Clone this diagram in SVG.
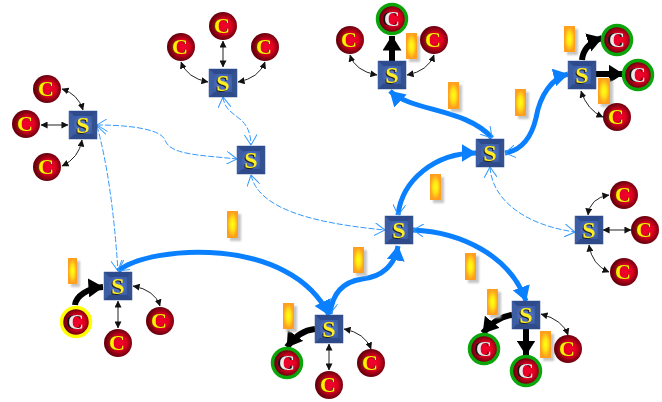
<svg xmlns="http://www.w3.org/2000/svg" width="662" height="402" viewBox="0 0 662 402">
<style>
.c{fill:url(#cg)}
.ct{font-family:"Liberation Serif",serif;font-weight:bold;font-size:22px;text-anchor:middle;fill:#ffee00;filter:drop-shadow(-1px 0 0 #5a3a00)}
.ca{fill:#f0e6ea;filter:drop-shadow(-1.5px 0 0 #111)}
.gr{fill:none;stroke:#0aa50a;stroke-width:3.5}
.yr{fill:none;stroke:#ffff00;stroke-width:3.5}
.st{font-family:"Liberation Serif",serif;font-weight:bold;font-size:24px;text-anchor:middle;fill:#ffee22;filter:drop-shadow(-1px 1px 0 #222)}
.bar{fill:url(#bg);filter:drop-shadow(3px 3px 1px #c4c4c4)}
.thin{fill:none;stroke:#222;stroke-width:1;marker-start:url(#ta);marker-end:url(#ta)}
.dash{fill:none;stroke:#3399ff;stroke-width:1;stroke-dasharray:6 2;marker-start:url(#oa);marker-end:url(#oa)}
.blue{fill:none;stroke:#0a80ff;stroke-width:5;marker-start:url(#oa);marker-end:url(#ba)}
.blk{fill:none;stroke:#000;stroke-width:6;marker-end:url(#ka)}
</style>
<defs>
<radialGradient id="cg" cx="0.55" cy="0.5" r="0.5"><stop offset="0" stop-color="#f4002e"/><stop offset="0.5" stop-color="#e00020"/><stop offset="0.82" stop-color="#8c0014"/><stop offset="1" stop-color="#6a000c"/></radialGradient>
<radialGradient id="bg" cx="0.5" cy="0.5" r="0.55"><stop offset="0" stop-color="#ffff10"/><stop offset="0.4" stop-color="#ffe414"/><stop offset="0.85" stop-color="#ff9f20"/></radialGradient>
<linearGradient id="sg" x1="0" y1="0" x2="1" y2="1"><stop offset="0" stop-color="#3a5aa0"/><stop offset="1" stop-color="#2a4484"/></linearGradient>
<radialGradient id="si" cx="0.5" cy="0.5" r="0.6"><stop offset="0" stop-color="#5e82d8"/><stop offset="1" stop-color="#3c5ca6"/></radialGradient>
<g id="sq"><rect x="-14.250" y="-14.250" width="28.500" height="28.500" fill="url(#sg)"/><path d="M-14-14H14L9-9H-9Z" fill="#2c4a8c"/><path d="M-14 14H14L9 9H-9Z" fill="#2e4a88"/><path d="M-14-14V14L-9 9V-9Z" fill="#3e5ea4"/><path d="M14-14V14L9 9V-9Z" fill="#33528f"/><rect x="-9" y="-9" width="18" height="18" fill="url(#si)"/></g>
<marker id="ta" viewBox="0 0 8 8" refX="7.5" refY="4" markerWidth="7" markerHeight="7" markerUnits="userSpaceOnUse" orient="auto-start-reverse"><path d="M0 0L8 4L0 8Z" fill="#111"/></marker>
<marker id="oa" viewBox="0 0 11 13" refX="10.500" refY="6.500" markerWidth="11" markerHeight="13" markerUnits="userSpaceOnUse" orient="auto-start-reverse"><path d="M0 0L10.500 6.500L0 13" fill="none" stroke="#3399ff" stroke-width="1"/></marker>
<marker id="ka" viewBox="0 0 15 19" refX="14.500" refY="9.500" markerWidth="15" markerHeight="19" markerUnits="userSpaceOnUse" orient="auto"><path d="M0 0L15 9.500L0 19Z" fill="#000"/></marker>
<marker id="ba" viewBox="0 0 15 18" refX="14.500" refY="9" markerWidth="15" markerHeight="18" markerUnits="userSpaceOnUse" orient="auto"><path d="M0 0L15 9L0 18Z" fill="#0a80ff"/></marker>
</defs>
<g id="connectors">
<path class="dash" d="M97 125C125 125 160 128 165 140C170 155 200 155 237 159"/>
<path class="dash" d="M97 126Q112 180 118 271"/>
<path class="dash" d="M223 97C226 120 250 112 251 145"/>
<path class="dash" d="M251 175C258 205 300 222 385 230"/>
<path class="dash" d="M490 167C492 200 525 225 575 232"/>
<path class="blue" d="M398 215C402 180 435 153 476 153"/>
<path class="blue" d="M330 314C332 295 342 282 362 279C382 277 395 265 398 246"/>
<path class="blue" d="M492 138C466 108 412 112 390 91"/>
<path class="blue" d="M505 153C523 150 532 135 536 118C540 95 552 78 568 74"/>
<path class="blue" d="M413 230C460 232 510 255 526 301"/>
<path class="blue" d="M118 271C150 245 290 235 329 315"/>
<path class="thin" d="M62 89Q78 94 83 110"/>
<path class="thin" d="M41 125H68"/>
<path class="thin" d="M62 166Q79 158 82 140"/>
<path class="thin" d="M181 62Q187 78 208 82"/>
<path class="thin" d="M223 41V67"/>
<path class="thin" d="M265 62Q259 78 238 82"/>
<path class="thin" d="M350 55Q355 71 377 75"/>
<path class="thin" d="M434 55Q428 71 407 75"/>
<path class="thin" d="M581 91Q587 110 603 117"/>
<path class="thin" d="M609 195Q590 198 588 215"/>
<path class="thin" d="M603 230H631"/>
<path class="thin" d="M589 245Q592 265 609 272"/>
<path class="thin" d="M133 286Q155 290 160 306"/>
<path class="thin" d="M118 301V328"/>
<path class="thin" d="M344 329Q365 333 371 349"/>
<path class="thin" d="M329 344V370"/>
<path class="thin" d="M541 314Q563 320 568 335"/>
<path class="blk" d="M75 305C76 296 88 288 103 287"/>
<path class="blk" d="M392 61V36"/>
<path class="blk" d="M582 60C583 50 590 42 602 38"/>
<path class="blk" d="M596 74H623"/>
<path class="blk" d="M512 315C502 316 492 322 483 333"/>
<path class="blk" d="M526 329V355"/>
<path class="blk" d="M315 329C305 330 295 336 287 347"/>
</g>
<g id="labels">
<rect class="bar" x="68" y="258" width="9" height="26"/>
<rect class="bar" x="227" y="211" width="11" height="27"/>
<rect class="bar" x="283" y="303" width="11" height="26"/>
<rect class="bar" x="353" y="247" width="11" height="26"/>
<rect class="bar" x="430" y="174" width="11" height="26"/>
<rect class="bar" x="406" y="33" width="11" height="26"/>
<rect class="bar" x="448" y="82" width="11" height="27"/>
<rect class="bar" x="515" y="89" width="11" height="27"/>
<rect class="bar" x="564" y="26" width="11" height="26"/>
<rect class="bar" x="598" y="78" width="12" height="26"/>
<rect class="bar" x="465" y="253" width="11" height="27"/>
<rect class="bar" x="487" y="289" width="11" height="26"/>
<rect class="bar" x="540" y="331" width="11" height="27"/>
</g>
<g id="s1"><use href="#sq" x="83" y="125"/><text class="st" x="83" y="133">S</text></g>
<g id="s2"><use href="#sq" x="223" y="83"/><text class="st" x="223" y="91">S</text></g>
<g id="s3"><use href="#sq" x="251" y="160"/><text class="st" x="251" y="168">S</text></g>
<g id="s4"><use href="#sq" x="392" y="75"/><text class="st" x="392" y="83">S</text></g>
<g id="s5"><use href="#sq" x="490" y="153"/><text class="st" x="490" y="161">S</text></g>
<g id="s6"><use href="#sq" x="582" y="75"/><text class="st" x="582" y="83">S</text></g>
<g id="s7"><use href="#sq" x="589" y="230"/><text class="st" x="589" y="238">S</text></g>
<g id="s8"><use href="#sq" x="399" y="230"/><text class="st" x="399" y="238">S</text></g>
<g id="s9"><use href="#sq" x="118" y="286"/><text class="st" x="118" y="294">S</text></g>
<g id="s10"><use href="#sq" x="329" y="329"/><text class="st" x="329" y="337">S</text></g>
<g id="s11"><use href="#sq" x="526" y="315"/><text class="st" x="526" y="323">S</text></g>
<g id="c1"><circle class="c" cx="47" cy="89" r="14"/><text class="ct" x="46" y="96">C</text></g>
<g id="c2"><circle class="c" cx="26" cy="124" r="14"/><text class="ct" x="25" y="131">C</text></g>
<g id="c3"><circle class="c" cx="47" cy="167" r="14"/><text class="ct" x="46" y="174">C</text></g>
<g id="c4"><circle class="c" cx="181" cy="47" r="14"/><text class="ct" x="180" y="54">C</text></g>
<g id="c5"><circle class="c" cx="223" cy="26" r="14"/><text class="ct" x="222" y="33">C</text></g>
<g id="c6"><circle class="c" cx="265" cy="47" r="14"/><text class="ct" x="264" y="54">C</text></g>
<g id="c7"><circle class="c" cx="350" cy="40" r="14"/><text class="ct" x="349" y="47">C</text></g>
<g id="c8"><circle class="c" cx="392" cy="19" r="14"/><circle class="gr" cx="392" cy="19" r="14.500"/><text class="ct ca" x="392" y="26">C</text></g>
<g id="c9"><circle class="c" cx="434" cy="40" r="14"/><text class="ct" x="433" y="47">C</text></g>
<g id="c10"><circle class="c" cx="617" cy="40" r="14"/><circle class="gr" cx="617" cy="40" r="14.500"/><text class="ct ca" x="617" y="47">C</text></g>
<g id="c11"><circle class="c" cx="638" cy="75" r="14"/><circle class="gr" cx="638" cy="75" r="14.500"/><text class="ct ca" x="638" y="82">C</text></g>
<g id="c12"><circle class="c" cx="617" cy="117" r="14"/><text class="ct" x="616" y="124">C</text></g>
<g id="c13"><circle class="c" cx="624" cy="195" r="14"/><text class="ct" x="623" y="202">C</text></g>
<g id="c14"><circle class="c" cx="645" cy="230" r="14"/><text class="ct" x="644" y="237">C</text></g>
<g id="c15"><circle class="c" cx="624" cy="272" r="14"/><text class="ct" x="623" y="279">C</text></g>
<g id="c16"><circle class="c" cx="76" cy="322" r="14"/><circle class="yr" cx="76" cy="322" r="14.500"/><text class="ct ca" x="76" y="329">C</text></g>
<g id="c17"><circle class="c" cx="118" cy="343" r="14"/><text class="ct" x="117" y="350">C</text></g>
<g id="c18"><circle class="c" cx="160" cy="321" r="14"/><text class="ct" x="159" y="328">C</text></g>
<g id="c19"><circle class="c" cx="287" cy="363" r="14"/><circle class="gr" cx="287" cy="363" r="14.500"/><text class="ct ca" x="287" y="370">C</text></g>
<g id="c20"><circle class="c" cx="329" cy="385" r="14"/><text class="ct" x="328" y="392">C</text></g>
<g id="c21"><circle class="c" cx="371" cy="363" r="14"/><text class="ct" x="370" y="370">C</text></g>
<g id="c22"><circle class="c" cx="484" cy="349" r="14"/><circle class="gr" cx="484" cy="349" r="14.500"/><text class="ct ca" x="484" y="356">C</text></g>
<g id="c23"><circle class="c" cx="526" cy="371" r="14"/><circle class="gr" cx="526" cy="371" r="14.500"/><text class="ct ca" x="526" y="378">C</text></g>
<g id="c24"><circle class="c" cx="568" cy="349" r="14"/><text class="ct" x="567" y="356">C</text></g>
</svg>
